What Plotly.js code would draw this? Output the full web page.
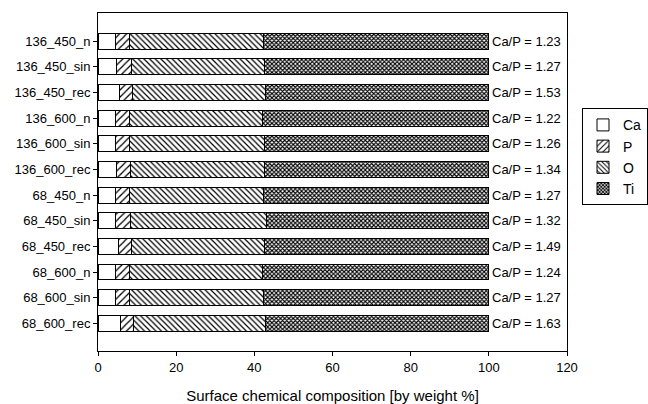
<!DOCTYPE html>
<html>
<head>
<meta charset="utf-8">
<script src="https://cdn.plot.ly/plotly-3.0.1.min.js"></script>
<style>html,body{margin:0;padding:0;background:#fff;}#chart{width:648px;height:404px;}</style>
</head>
<body>
<div id="chart"></div>
<script>
var samples = ["136_450_n","136_450_sin","136_450_rec","136_600_n","136_600_sin","136_600_rec","68_450_n","68_450_sin","68_450_rec","68_600_n","68_600_sin","68_600_rec"];
var caValues = [4.4,4.7,5.4,4.4,4.5,4.7,4.4,4.6,5.2,4.4,4.4,5.7];
var pValues  = [3.7,3.8,3.5,3.7,3.6,3.6,3.7,3.7,3.4,3.6,3.6,3.5];
var oValues  = [34.3,34.2,33.9,34.0,34.4,34.2,34.3,34.9,34.0,34.1,34.3,33.6];
var tiValues = [57.6,57.3,57.2,57.9,57.5,57.5,57.6,56.8,57.4,57.9,57.7,57.2];
var caPRatio = ["1.23","1.27","1.53","1.22","1.26","1.34","1.27","1.32","1.49","1.24","1.27","1.63"];
var elements = ["Ca","P","O","Ti"];

var series = [caValues, pValues, oValues, tiValues];
var patterns = [
  {shape: "", fgcolor: "#000", bgcolor: "#fff"},
  {shape: "/", fgcolor: "#000", bgcolor: "#fff", size: 5, solidity: 0.25},
  {shape: "\\", fgcolor: "#000", bgcolor: "#fff", size: 4, solidity: 0.3},
  {shape: "x", fgcolor: "#000", bgcolor: "#fff", size: 3, solidity: 0.6}
];

var traces = elements.map(function(name, i){
  return {
    type: "bar",
    orientation: "h",
    name: name,
    x: series[i],
    y: samples,
    width: 0.62,
    marker: {
      color: "#fff",
      line: {color: "#000", width: 1},
      pattern: patterns[i]
    },
    hoverinfo: "x+y+name"
  };
});

var totals = samples.map(function(s, j){
  return caValues[j] + pValues[j] + oValues[j] + tiValues[j];
});

var annotations = samples.map(function(s, j){
  return {
    x: totals[j], y: s, xref: "x", yref: "y",
    text: "Ca/P = " + caPRatio[j],
    showarrow: false, xanchor: "left", xshift: 1,
    font: {family: "Liberation Sans, Arial, sans-serif", size: 13, color: "#000"}
  };
});

var layout = {
  width: 648, height: 404,
  margin: {l: 98, r: 81, t: 13, b: 53, pad: 0, autoexpand: false},
  paper_bgcolor: "#fff", plot_bgcolor: "#fff",
  barmode: "stack",
  font: {family: "Liberation Sans, Arial, sans-serif", size: 13, color: "#000"},
  xaxis: {
    range: [0, 120], dtick: 20, tick0: 0,
    showgrid: false, zeroline: false,
    showline: true, linecolor: "#000", linewidth: 1, mirror: true,
    ticks: "outside", ticklen: 4, tickcolor: "#000",
    tickfont: {size: 13},
    automargin: false,
    title: {text: "Surface chemical composition [by weight %]", font: {size: 15}, standoff: 16}
  },
  yaxis: {
    type: "category",
    categoryorder: "array", categoryarray: samples,
    range: [12.08, -1.1],
    showgrid: false, zeroline: false,
    showline: true, linecolor: "#000", linewidth: 1, mirror: true,
    ticks: "outside", ticklen: 4, tickcolor: "#000",
    automargin: false,
    tickfont: {size: 13}
  },
  showlegend: true,
  legend: {
    x: 1.032, xanchor: "left", y: 0.718, yanchor: "top",
    bgcolor: "#fff", bordercolor: "#000", borderwidth: 1,
    traceorder: "normal",
    font: {size: 14},
    itemwidth: 30,
    tracegroupgap: 0
  },
  annotations: annotations
};

Plotly.newPlot("chart", traces, layout, {displayModeBar: false, staticPlot: true});
</script>
</body>
</html>
